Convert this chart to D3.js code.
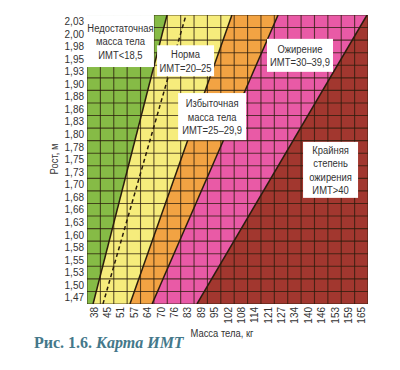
<!DOCTYPE html>
<html><head><meta charset="utf-8">
<script src="https://cdn.jsdelivr.net/npm/d3@7"></script>
<style>body{margin:0;background:#fff}svg{display:block}</style>
</head><body><svg id="c" width="400" height="370"></svg>
<script>
// ---- data ----
const weights = [38,45,51,57,64,70,76,83,89,95,102,108,114,121,127,134,140,146,153,159,165];
const heights = [2.03,2.00,1.98,1.95,1.93,1.90,1.88,1.86,1.83,1.80,1.78,1.75,1.73,1.70,1.68,1.66,1.63,1.60,1.58,1.55,1.53,1.50,1.47];
// boundary lines of the BMI zones: weight (kg) read at the lower and upper edge of the grid
const boundaryBMI = [18.5, 20, 25, 30, 40];
const boundaryWeightLow  = [37.7, 42.4, 55.2, 65.7, 87.0];
const boundaryWeightHigh = [72.8, 81.8, 103.6, 125.5, 167.7];
// zones: index of left / right boundary (-1 = chart edge)
const zoneLeft  = [-1, 0, 2, 3, 4];
const zoneRight = [0, 2, 3, 4, -1];
const zoneColors = ["#86bb46", "#f6ec7c", "#f2a343", "#e95aa6", "#a2372f"];
const zoneLabels = [
  ["Недостаточная", "масса тела", "ИМТ<18,5"],
  ["Норма", "ИМТ=20–25"],
  ["Избыточная", "масса тела", "ИМТ=25–29,9"],
  ["Ожирение", "ИМТ=30–39,9"],
  ["Крайняя", "степень", "ожирения", "ИМТ>40"]
];
// label anchors in data units (weight, height)
const labelWeight = [50.7, 81.6, 94.2, 135.9, 150.4];
const labelHeight = [1.990, 1.950, 1.837, 1.961, 1.729];
const xTitle = "Масса тела, кг";
const yTitle = "Рост, м";
const captionA = "Рис. 1.6. ";
const captionB = "Карта ИМТ";

// ---- layout ----
const L = 87, R = 368, T = 15, B = 304;
const sans = "'Liberation Sans',Arial,sans-serif";
const SX = 0.82; // condensed look
const ink = "#333";
const boxW = [67, 57, 68, 66, 55], boxH = [52, 31, 47, 33, 56];

const svg = d3.select("#c");
const xBand = d3.scaleBand().domain(weights).range([L, R]);
const yBand = d3.scaleBand().domain(heights).range([T, B]);
const wStep = (weights[weights.length-1] - weights[0]) / (weights.length - 1);
const hStep = (heights[0] - heights[heights.length-1]) / (heights.length - 1);
const wMin = weights[0] - wStep/2, wMax = weights[weights.length-1] + wStep/2;
const hMin = heights[heights.length-1] - hStep/2, hMax = heights[0] + hStep/2;
const x = d3.scaleLinear().domain([wMin, wMax]).range([L, R]);
const y = d3.scaleLinear().domain([hMin, hMax]).range([B, T]);

function cText(parent, px, py, str, size, anchor, rot) {
  return parent.append("text")
    .attr("transform", `translate(${px},${py})${rot ? " rotate(" + rot + ")" : ""} scale(${SX},1)`)
    .attr("text-anchor", anchor || "middle")
    .attr("font-family", sans).attr("font-size", size).attr("fill", ink).text(str);
}

svg.append("clipPath").attr("id","plot").append("rect")
  .attr("x", L).attr("y", T).attr("width", R-L).attr("height", B-T);

const gPlot = svg.append("g").attr("clip-path","url(#plot)");

// zones
zoneColors.forEach((col, z) => {
  const l = zoneLeft[z], r = zoneRight[z];
  const pts = [
    [l < 0 ? wMin - 20 : boundaryWeightLow[l], hMin],
    [l < 0 ? wMin - 20 : boundaryWeightHigh[l], hMax],
    [r < 0 ? wMax + 20 : boundaryWeightHigh[r], hMax],
    [r < 0 ? wMax + 20 : boundaryWeightLow[r], hMin]
  ];
  gPlot.append("path")
    .attr("d", d3.line().x(d => x(d[0])).y(d => y(d[1]))(pts) + "Z")
    .attr("fill", col);
});

// grid
const vEdges = weights.map(w => xBand(w)).concat([R]);
const hEdges = heights.map(h => yBand(h)).concat([B]);
gPlot.append("g").selectAll("line").data(vEdges).join("line")
  .attr("x1", d => d).attr("x2", d => d).attr("y1", T).attr("y2", B)
  .attr("stroke", "#2a1c0c").attr("stroke-opacity", 0.75).attr("stroke-width", 1.1);
gPlot.append("g").selectAll("line").data(hEdges).join("line")
  .attr("y1", d => d).attr("y2", d => d).attr("x1", L).attr("x2", R)
  .attr("stroke", "#2a1c0c").attr("stroke-opacity", 0.75).attr("stroke-width", 1.1);

// boundary lines
boundaryBMI.forEach((b, i) => {
  gPlot.append("line")
    .attr("x1", x(boundaryWeightLow[i])).attr("y1", y(hMin))
    .attr("x2", x(boundaryWeightHigh[i])).attr("y2", y(hMax))
    .attr("stroke", "#2a1c0c").attr("stroke-width", 1.5)
    .attr("stroke-dasharray", b === 20 ? "4,3" : null);
});

// label boxes
zoneLabels.forEach((lines, i) => {
  const cx = x(labelWeight[i]), cy = y(labelHeight[i]);
  svg.append("rect")
    .attr("x", cx - boxW[i]/2).attr("y", cy - boxH[i]/2)
    .attr("width", boxW[i]).attr("height", boxH[i]).attr("fill", "#fff");
  lines.forEach((s, k) => {
    cText(svg, cx, cy + (k - (lines.length-1)/2) * 13.5 + 4.2, s, 11.5, "middle");
  });
});

// axes
const ruFmt = d3.formatLocale({decimal: ",", thousands: " ", grouping: [3], currency: ["", ""]}).format(".2f");
const yAxis = svg.append("g").attr("transform", `translate(${L - 3},0)`)
  .call(d3.axisLeft(yBand).tickSize(0).tickPadding(0).tickFormat(ruFmt));
yAxis.select(".domain").remove();
yAxis.selectAll("text").attr("x", 0).attr("transform", `scale(${SX + 0.05},1)`)
  .attr("font-family", sans).attr("font-size", 11.5).attr("fill", ink);

const xAxis = svg.append("g").attr("transform", `translate(0,${B})`)
  .call(d3.axisBottom(xBand).tickSize(0));
xAxis.select(".domain").remove();
xAxis.selectAll("text")
  .attr("transform", `rotate(-90) translate(-3,0) scale(${SX + 0.05},1)`).attr("text-anchor", "end")
  .attr("x", 0).attr("y", 0).attr("dy", "0.35em")
  .attr("font-family", sans).attr("font-size", 11.5).attr("fill", ink);

cText(svg, 58, 159, yTitle, 11.5, "middle", -90);
cText(svg, 222, 337, xTitle, 11.5, "middle");

const cap = svg.append("text").attr("x", 34).attr("y", 348)
  .attr("font-family", "'Liberation Serif','DejaVu Serif',serif").attr("font-size", 16)
  .attr("font-weight", "bold").attr("fill", "#44788a");
cap.append("tspan").text(captionA);
cap.append("tspan").attr("font-style", "italic").text(captionB);
</script>
</body></html>
